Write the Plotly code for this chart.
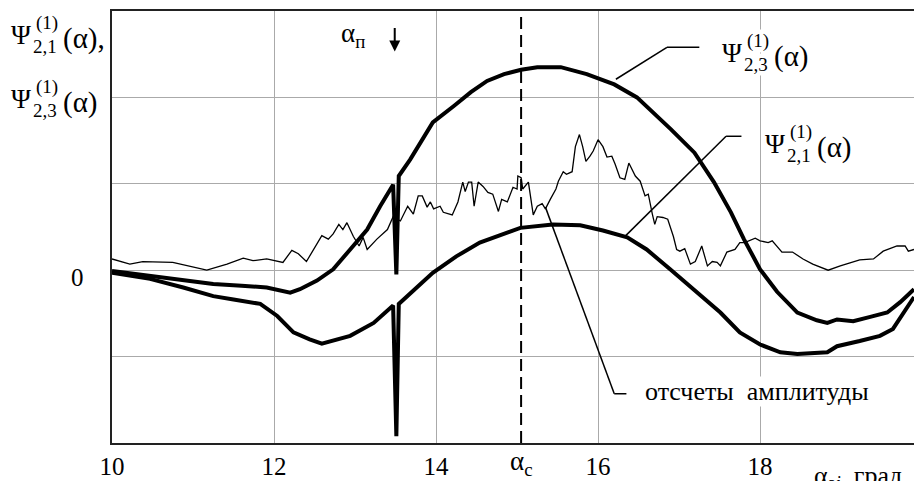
import plotly.graph_objects as go

# angle axis, degrees
x_psi23 = [10.0, 10.5, 11.09, 11.25, 11.6, 11.91, 12.2, 12.32, 12.53, 12.73,
           12.94, 13.15, 13.31, 13.47, 13.51, 13.54, 13.68, 13.96, 14.22, 14.43,
           14.63, 14.84, 15.05, 15.25, 15.54, 15.86, 16.2, 16.48, 16.9, 17.19,
           17.43, 17.64, 17.8, 18.0, 18.21, 18.46, 18.7, 18.83, 18.95, 19.15,
           19.36, 19.57, 19.73, 19.9]
y_psi23 = [-0.01, -0.07, -0.13, -0.16, -0.18, -0.2, -0.26, -0.22, -0.12, 0.01,
           0.24, 0.47, 0.74, 0.99, -0.05, 1.09, 1.28, 1.71, 1.9, 2.06,
           2.19, 2.27, 2.32, 2.35, 2.35, 2.27, 2.15, 2.0, 1.63, 1.36,
           1.02, 0.67, 0.36, 0.01, -0.25, -0.49, -0.58, -0.61, -0.57, -0.59,
           -0.54, -0.49, -0.37, -0.22]

x_psi21 = [10.0, 10.47, 10.88, 11.25, 11.5, 11.83, 12.04, 12.24, 12.44, 12.59,
           12.94, 13.23, 13.47, 13.51, 13.54, 13.96, 14.25, 14.54, 15.04, 15.44,
           15.78, 16.06, 16.36, 16.6, 16.89, 17.26, 17.51, 17.75, 18.0, 18.25,
           18.46, 18.83, 18.95, 19.23, 19.48, 19.64, 19.77, 19.9]
y_psi21 = [-0.03, -0.1, -0.2, -0.3, -0.34, -0.39, -0.53, -0.72, -0.8, -0.85,
           -0.76, -0.61, -0.41, -1.92, -0.39, -0.03, 0.16, 0.32, 0.49, 0.53,
           0.52, 0.46, 0.38, 0.24, 0.01, -0.28, -0.49, -0.72, -0.86, -0.95,
           -0.97, -0.95, -0.88, -0.82, -0.76, -0.68, -0.49, -0.31]

# amplitude samples (thin noisy line)
x_amp = [10.0, 10.22, 10.38, 10.75, 11.17, 11.42, 11.62, 11.74, 11.91, 12.05,
         12.11, 12.22, 12.30, 12.40, 12.48, 12.59, 12.67, 12.73, 12.80, 12.85,
         12.90, 12.98, 13.05, 13.10, 13.15, 13.27, 13.40, 13.47, 13.56, 13.65,
         13.72, 13.78, 13.83, 13.89, 13.93, 13.97, 14.05, 14.09, 14.20, 14.27,
         14.33, 14.36, 14.40, 14.44, 14.47, 14.52, 14.58, 14.64, 14.70, 14.77,
         14.81, 14.88, 14.95, 15.00, 15.01, 15.05, 15.07, 15.14, 15.20, 15.25,
         15.31, 15.35, 15.41, 15.48, 15.51, 15.57, 15.61, 15.68, 15.72, 15.77,
         15.81, 15.85, 15.90, 15.94, 16.00, 16.06, 16.11, 16.17, 16.21, 16.27,
         16.33, 16.38, 16.46, 16.52, 16.58, 16.62, 16.67, 16.70, 16.73, 16.80,
         16.86, 16.93, 16.97, 17.01, 17.07, 17.14, 17.20, 17.28, 17.35, 17.41,
         17.47, 17.51, 17.59, 17.69, 17.75, 17.81, 17.94, 18.00, 18.10, 18.15,
         18.27, 18.40, 18.53, 18.65, 18.84, 18.99, 19.23, 19.40, 19.52, 19.69,
         19.79, 19.83, 19.90]
y_amp = [0.13, 0.07, 0.10, 0.09, 0.00, 0.07, 0.14, 0.11, 0.13, 0.10,
         0.09, 0.23, 0.19, 0.10, 0.22, 0.40, 0.36, 0.42, 0.53, 0.47,
         0.55, 0.39, 0.28, 0.38, 0.24, 0.36, 0.47, 0.62, 0.57, 0.74,
         0.65, 0.86, 0.86, 0.73, 0.79, 0.71, 0.74, 0.67, 0.64, 0.79,
         1.02, 0.91, 1.02, 1.02, 0.74, 1.02, 0.97, 0.90, 0.88, 0.68,
         0.82, 0.79, 0.96, 0.94, 1.09, 1.07, 0.94, 1.02, 0.64, 0.74,
         0.77, 0.71, 0.82, 0.94, 1.03, 1.14, 1.11, 1.14, 1.43, 1.57,
         1.43, 1.26, 1.32, 1.38, 1.51, 1.43, 1.31, 1.32, 1.23, 1.07,
         1.05, 1.24, 1.09, 1.03, 0.86, 0.88, 0.65, 0.53, 0.62, 0.61,
         0.59, 0.39, 0.24, 0.22, 0.25, 0.07, 0.10, 0.28, 0.05, 0.10,
         0.09, 0.05, 0.21, 0.24, 0.32, 0.32, 0.37, 0.34, 0.32, 0.34,
         0.21, 0.21, 0.13, 0.07, 0.00, 0.05, 0.12, 0.13, 0.22, 0.28,
         0.28, 0.22, 0.24]

alpha_c = 15.05
alpha_p = 13.49
x_ticks = [10, 12, 14, 16, 18]
x_ticktext = ['10', '12', '14', '16', '18']
y_ticks = [-1, 0, 1, 2]

FONT = 'Liberation Serif'
BIG = 27
SMALL = 19

fig = go.Figure()

fig.add_trace(go.Scatter(x=x_amp, y=y_amp, mode='lines',
                         line=dict(color='black', width=1.3)))
fig.add_trace(go.Scatter(x=[alpha_c, alpha_c], y=[-2, 2.95], mode='lines',
                         line=dict(color='black', width=2, dash='12px,6px')))
fig.add_trace(go.Scatter(x=x_psi23, y=y_psi23, mode='lines',
                         line=dict(color='black', width=4)))
fig.add_trace(go.Scatter(x=x_psi21, y=y_psi21, mode='lines',
                         line=dict(color='black', width=4)))


def text(x, y, s, size=BIG, anchor='left', xs=0, ys=0, bg=None, ref='data'):
    refs = dict(xref='x', yref='y') if ref == 'data' else dict(xref='paper', yref='paper')
    fig.add_annotation(x=x, y=y, text=s, showarrow=False, xanchor=anchor,
                       yanchor='middle', xshift=xs, yshift=ys,
                       font=dict(family=FONT, size=size, color='black'),
                       bgcolor=bg, borderpad=0, **refs)


def psi_label(x, y, sub, tail, bg=None, ref='data'):
    # Ψ with stacked superscript (1) and subscript
    text(x, y, 'Ψ', bg=bg, ref=ref)
    text(x, y, '(1)', size=SMALL, xs=25, ys=12, bg=bg, ref=ref)
    text(x, y, sub, size=SMALL, xs=22, ys=-11, bg=bg, ref=ref)
    text(x, y, tail, size=29, xs=52, ys=-3, bg=bg, ref=ref)


def leader(xs, ys):
    for i in range(len(xs) - 1):
        fig.add_shape(type='line', x0=xs[i], y0=ys[i], x1=xs[i + 1], y1=ys[i + 1],
                      xref='x', yref='y', line=dict(color='black', width=1.5))


psi_label(17.52, 2.51, '2,3', '(α)', bg='white')
psi_label(18.05, 1.46, '2,1', '(α)', bg='white')
leader([16.22, 16.85, 17.25], [2.21, 2.58, 2.58])
leader([16.32, 17.58, 17.77], [0.38, 1.55, 1.55])
leader([15.35, 16.2, 16.35], [0.73, -1.43, -1.43])
text(16.57, -1.40, 'отсчеты  амплитуды', size=26, bg='white')

# axis captions outside the plot area
psi_label(-0.127, 0.944, '2,1', '(α),', ref='paper')
psi_label(-0.127, 0.796, '2,3', '(α)', ref='paper')
text(-0.0424, 0.384, '0', size=25, anchor='center', ref='paper')
text(0.511, -0.047, 'α<sub>c</sub>', anchor='center', ref='paper')
text(0.874, -0.078, 'α<sub>a<i>i</i></sub>, град', size=26, ref='paper')

text(12.81, 2.72, 'α<sub>п</sub>')
fig.add_annotation(x=alpha_p, y=2.53, xref='x', yref='y', text='',
                   showarrow=True, ax=0, ay=-25, arrowhead=2, arrowsize=1.1,
                   arrowwidth=2, arrowcolor='black')

fig.update_layout(
    width=914, height=481,
    margin=dict(l=112, r=0, t=11, b=38),
    plot_bgcolor='white', paper_bgcolor='white',
    showlegend=False,
    font=dict(family=FONT, size=BIG, color='black'),
    xaxis=dict(range=[10, 19.9], tickvals=x_ticks, ticktext=x_ticktext,
               showgrid=True, gridcolor='#aaaaaa', gridwidth=1,
               showline=True, linecolor='#222', linewidth=2, mirror=True,
               zeroline=False, ticks='', tickfont=dict(size=25)),
    yaxis=dict(range=[-2, 3], tickvals=y_ticks, showticklabels=False,
               showgrid=True, gridcolor='#aaaaaa', gridwidth=1,
               showline=True, linecolor='#222', linewidth=2,
               zeroline=False, ticks=''),
)

fig.write_html("out.html", config={'displayModeBar': False},
               post_script="document.body.style.margin='0';")
